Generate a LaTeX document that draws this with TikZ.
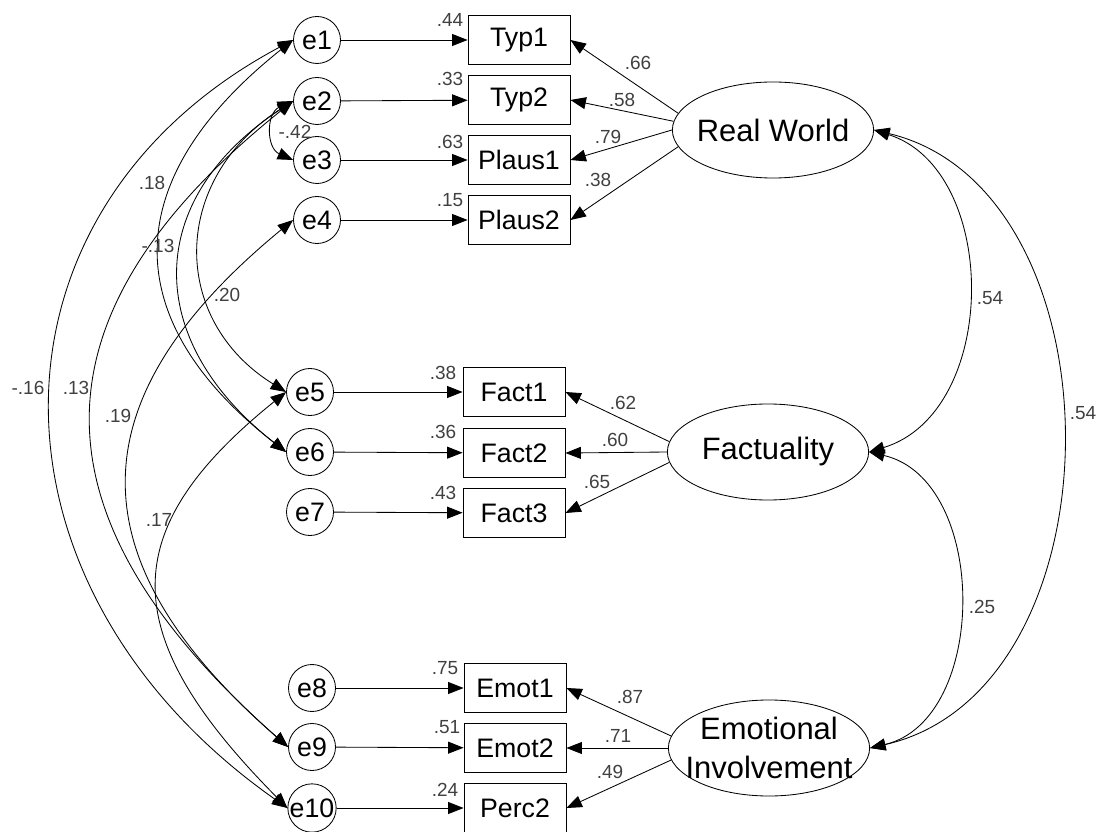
\documentclass[tikz,border=0pt]{standalone}
\usepackage{fontspec}
\setmainfont{Liberation Sans}
\usetikzlibrary{arrows.meta,shapes.geometric}

\begin{document}
\begin{tikzpicture}
        [x=0.025cm,y=-0.025cm,>={Triangle[length=11pt,width=8.5pt]},line width=0.6pt,
        err node/.style={circle,draw,minimum size=1.175cm,inner sep=0pt,font=\fontsize{19}{21}\selectfont},
        obs node/.style={rectangle,draw,minimum width=2.55cm,minimum height=1.22cm,inner sep=0pt,font=\fontsize{19}{21}\selectfont},
        lat node/.style={ellipse,draw,minimum width=5.03cm,minimum height=2.4cm,inner sep=0pt,align=center,font=\fontsize{22}{28}\selectfont},
        coef node/.style={inner sep=0pt,text=black!75,font=\fontsize{13.5}{15}\selectfont}]
    
    \useasboundingbox (0,0) rectangle (1103,832);
    
    % error terms
    \node[err node] (e1) at (317,40) {e1};
    \node[err node] (e2) at (317,101) {e2};
    \node[err node] (e3) at (317,160) {e3};
    \node[err node] (e4) at (317,220) {e4};
    \node[err node] (e5) at (310,392) {e5};
    \node[err node] (e6) at (310,452) {e6};
    \node[err node] (e7) at (310,512) {e7};
    \node[err node] (e8) at (312,688) {e8};
    \node[err node] (e9) at (312,747) {e9};
    \node[err node] (e10) at (312,808) {e10};
    
    % indicators
    \node[obs node] (Typ1) at (519,40) {Typ1};
    \node[obs node] (Typ2) at (519,100) {Typ2};
    \node[obs node] (Plaus1) at (519,160) {Plaus1};
    \node[obs node] (Plaus2) at (519,220) {Plaus2};
    \node[obs node] (Fact1) at (514,392) {Fact1};
    \node[obs node] (Fact2) at (514,453) {Fact2};
    \node[obs node] (Fact3) at (514,513) {Fact3};
    \node[obs node] (Emot1) at (515,688) {Emot1};
    \node[obs node] (Emot2) at (515,748) {Emot2};
    \node[obs node] (Perc2) at (515,808) {Perc2};
    
    % factors
    \node[lat node] (RW) at (773,130) {\makebox[0pt]{Real World}};
    \node[lat node] (Fact) at (768,452) {\makebox[0pt]{Factuality}};
    \node[lat node] (EI) at (769,748) {\makebox[0pt]{Emotional}\\\makebox[0pt]{Involvement}};
    
    \path[->]
    (e1) edge (Typ1)
    (e2) edge (Typ2)
    (e3) edge (Plaus1)
    (e4) edge (Plaus2)
    (e5) edge (Fact1)
    (e6) edge (Fact2)
    (e7) edge (Fact3)
    (e8) edge (Emot1)
    (e9) edge (Emot2)
    (e10) edge (Perc2);
    
    \path[->]
    (RW.170) edge (Typ1.east)
    (RW.175) edge (Typ2.east)
    (RW.west) edge (Plaus1.east)
    (RW.190) edge (Plaus2.east)
    (Fact.174) edge (Fact1.east)
    (Fact.west) edge (Fact2.east)
    (Fact.186) edge (Fact3.east)
    (EI.173) edge (Emot1.east)
    (EI.west) edge (Emot2.east)
    (EI.187) edge (Perc2.east);
    
    % covariances
    \draw[<->] (e1.west) .. controls (-28,211) and (-28,586) .. (e10.west);
    \draw[<->] (e2.west) .. controls (26,315) and (26,516) .. (e9.west);
    \draw[<->] (e4.west) .. controls (74,400) and (74,560) .. (e9.west);
    \draw[<->] (e5.west) .. controls (115,530) and (115,634) .. (e10.west);
    \draw[<->] (e1.west) .. controls (117,180) and (117,320) .. (e6.west);
    \draw[<->] (e2.west) .. controls (143,200) and (143,340) .. (e6.west);
    \draw[<->] (e2.west) .. controls (170,180) and (170,320) .. (e5.west);
    \draw[<->] (e2.west) .. controls +(-27,12) and +(-27,-12) .. (e3.west);
    \draw[<->] (RW.east) .. controls (1000,170) and (1000,412) .. (Fact.east);
    \draw[<->] (RW.east) .. controls (1125,190) and (1125,690) .. (EI.east);
    \draw[<->] (Fact.east) .. controls (989,480) and (989,720) .. (EI.east);
    
    % estimates
    \node[coef node] (r1) at (450,20) {.44};
    \node[coef node] (r2) at (450,79) {.33};
    \node[coef node] (r3) at (450,142) {.63};
    \node[coef node] (r4) at (450,200) {.15};
    \node[coef node] (r5) at (443,373) {.38};
    \node[coef node] (r6) at (443,432) {.36};
    \node[coef node] (r7) at (443,493) {.43};
    \node[coef node] (r8) at (445,668) {.75};
    \node[coef node] (r9) at (447,727) {.51};
    \node[coef node] (r10) at (445,790) {.24};
    
    \node[coef node] (l1) at (638,63) {.66};
    \node[coef node] (l2) at (622,100) {.58};
    \node[coef node] (l3) at (608,137) {.79};
    \node[coef node] (l4) at (598,180) {.38};
    \node[coef node] (l5) at (623,403) {.62};
    \node[coef node] (l6) at (615,440) {.60};
    \node[coef node] (l7) at (597,482) {.65};
    \node[coef node] (l8) at (630,697) {.87};
    \node[coef node] (l9) at (618,736) {.71};
    \node[coef node] (l10) at (610,772) {.49};
    
    \node[coef node] (c1) at (295,132) {-.42};
    \node[coef node] (c2) at (152,183) {.18};
    \node[coef node] (c3) at (158,246) {-.13};
    \node[coef node] (c4) at (227,295) {.20};
    \node[coef node] (c5) at (28,388) {-.16};
    \node[coef node] (c6) at (76,388) {.13};
    \node[coef node] (c7) at (118,416) {.19};
    \node[coef node] (c8) at (159,520) {.17};
    \node[coef node] (c9) at (990,298) {.54};
    \node[coef node] (c10) at (1083,413) {.54};
    \node[coef node] (c11) at (982,607) {.25};
    
\end{tikzpicture}
\end{document}
